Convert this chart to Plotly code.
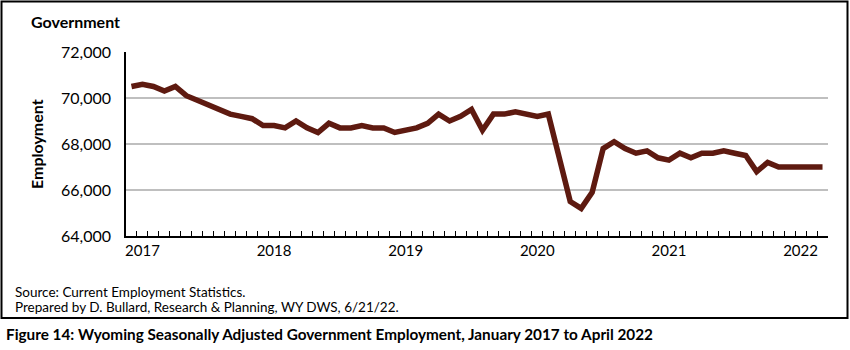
import plotly.graph_objects as go

# ---- data ----
months = list(range(64))  # Jan 2017 .. Apr 2022
employment = [
    70500, 70600, 70500, 70300, 70500, 70100, 69900, 69700, 69500, 69300, 69200, 69100,
    68800, 68800, 68700, 69000, 68700, 68500, 68900, 68700, 68700, 68800, 68700, 68700,
    68500, 68600, 68700, 68900, 69300, 69000, 69200, 69500, 68600, 69300, 69300, 69400,
    69300, 69200, 69300, 67400, 65500, 65200, 65900, 67800, 68100, 67800, 67600, 67700,
    67400, 67300, 67600, 67400, 67600, 67600, 67700, 67600, 67500, 66800, 67200, 67000,
    67000, 67000, 67000, 67000,
]
year_labels = ["2017", "2018", "2019", "2020", "2021", "2022"]
year_tick_pos = [1.0, 13.0, 25.0, 37.0, 49.0, 61.0]
month_boundaries = [m - 0.5 for m in range(65)]
y_ticks = [64000, 66000, 68000, 70000, 72000]

W, H = 850, 350
L, R, T, B = 126, 828, 52, 236  # plot area in pixels


def px(x):
    return (x - L) / (R - L)


def py(y):
    return (B - y) / (B - T)


FONT = "Lato"
LINE = "#5E1A10"

fig = go.Figure()
fig.add_trace(go.Scatter(
    x=months, y=employment, mode="lines",
    line=dict(color=LINE, width=5.5), hoverinfo="skip", showlegend=False,
))
# invisible trace to anchor the month tick axis
fig.add_trace(go.Scatter(
    x=[months[0]], y=[employment[0]], mode="markers", xaxis="x2",
    marker=dict(opacity=0), hoverinfo="skip", showlegend=False,
))

fig.update_layout(
    width=W, height=H,
    margin=dict(l=L, r=W - R, t=T, b=H - B, pad=0),
    paper_bgcolor="white", plot_bgcolor="white",
    font=dict(family=FONT, color="black"),
    xaxis=dict(
        range=[-0.5, 63.5], showgrid=False, zeroline=False,
        showline=True, linecolor="black", linewidth=1.5,
        tickmode="array", tickvals=year_tick_pos, ticktext=year_labels,
        ticks="", tickfont=dict(size=15, family=FONT),
    ),
    xaxis2=dict(
        range=[-0.5, 63.5], overlaying="x", side="bottom", anchor="y",
        showgrid=False, zeroline=False, showline=False, showticklabels=False,
        tickmode="array", tickvals=month_boundaries, ticks="inside",
        ticklen=5, tickcolor="black", tickwidth=1,
    ),
    yaxis=dict(
        range=[64000, 72000], tickvals=y_ticks, tickformat=",",
        showgrid=True, gridcolor="#BFBFBF", gridwidth=1.5, zeroline=False,
        showline=True, linecolor="black", linewidth=1.5,
        ticks="outside", ticklen=10, tickcolor="rgba(0,0,0,0)",
        tickfont=dict(size=16, family=FONT),
    ),
)

# outer frame
fig.add_shape(type="rect", xref="paper", yref="paper",
              x0=px(1.5), x1=px(847.5), y0=py(318), y1=py(1.5),
              line=dict(color="black", width=2), fillcolor="rgba(0,0,0,0)", layer="below")

ann = [
    dict(text="<b>Government</b>", x=px(29), y=py(21), xanchor="left", yanchor="middle",
         font=dict(size=16)),
    dict(text="<b>Employment</b>", x=px(36), y=py(144), xanchor="center", yanchor="middle",
         textangle=-90, font=dict(size=16)),
    dict(text="Source: Current Employment Statistics.", x=px(13), y=py(292),
         xanchor="left", yanchor="middle", font=dict(size=13.5)),
    dict(text="Prepared by D. Bullard, Research &amp; Planning, WY DWS, 6/21/22.", x=px(13), y=py(307),
         xanchor="left", yanchor="middle", font=dict(size=13.5)),
    dict(text="<b>Figure 14: Wyoming Seasonally Adjusted Government Employment, January 2017 to April 2022</b>",
         x=px(4), y=py(334), xanchor="left", yanchor="middle", font=dict(size=15.3)),
]
for a in ann:
    a.update(xref="paper", yref="paper", showarrow=False)
    a["font"].update(family=FONT, color="black")
    fig.add_annotation(**a)

fig.write_html("out.html")
